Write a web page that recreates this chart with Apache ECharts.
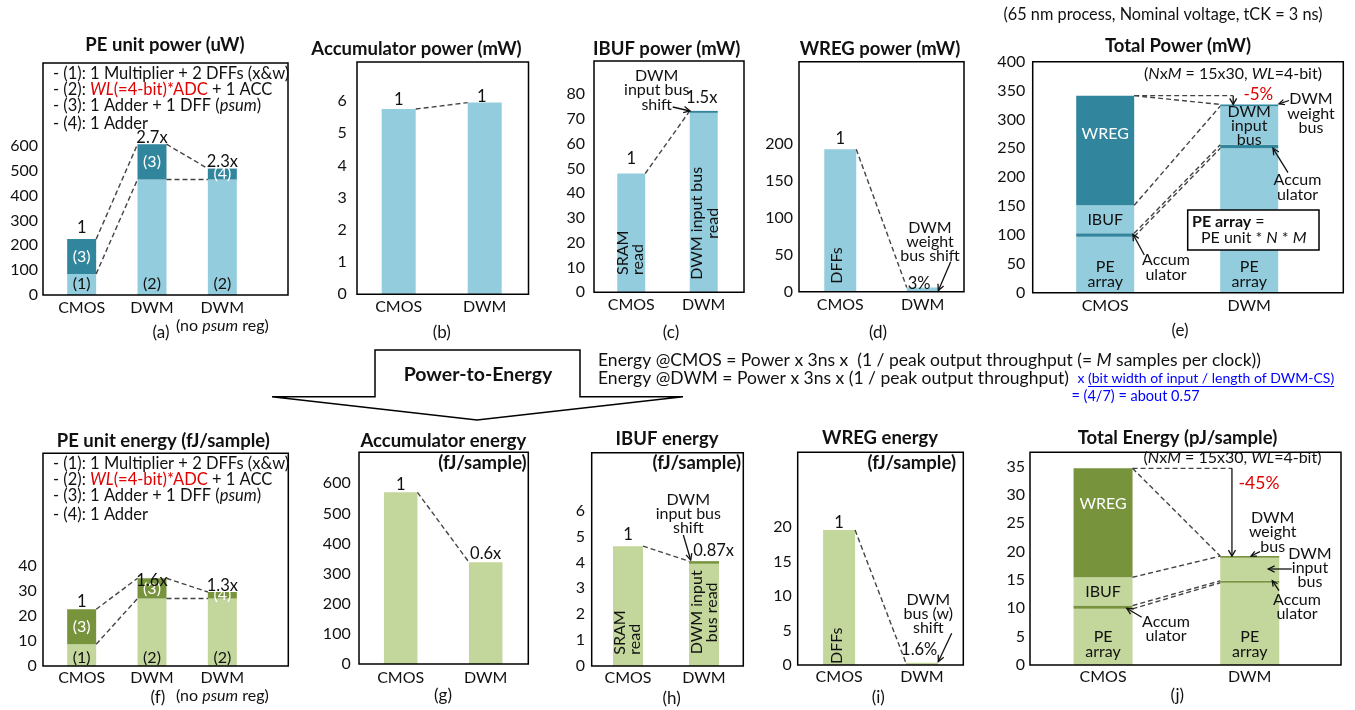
<!DOCTYPE html>
<html>
<head>
<meta charset="utf-8">
<script src="https://cdn.jsdelivr.net/npm/echarts@6/dist/echarts.min.js"></script>
<style>
  html, body { margin: 0; padding: 0; background: #fff; }
  #chart { width: 1355px; height: 710px; }
</style>
</head>
<body>
<div id="chart"></div>
<script>
// ---------------- data ----------------
const catsPE = ['CMOS', 'DWM', 'DWM (no psum reg)'];
const catsPair = ['CMOS', 'DWM'];

// (a) PE unit power (uW): base block (1)/(2) and top block (3)/(4)
const pePowerBase = [85, 465, 465];
const pePowerTop = [140, 142, 44];
const peBaseTags = ['(1)', '(2)', '(2)'];
const peTopTags = ['(3)', '(3)', '(4)'];
const pePowerRatio = ['1', '2.7x', '2.3x'];

// (b) Accumulator power (mW)
const accPower = [5.75, 5.95];
const accPowerRatio = ['1', '1'];

// (c) IBUF power (mW): read + bus shift
const ibufPowerRead = [48, 72.5];
const ibufPowerShift = [0, 0.8];
const ibufPowerRatio = ['1', '1.5x'];

// (d) WREG power (mW)
const wregPower = [193, 5.8];
const wregPowerRatio = ['1', '3%'];

// (e) Total power (mW)
const totPowerPE = [97, 250];
const totPowerAcc = [5.75, 6];
const totPowerIbuf = [48.5, 67];
const totPowerWreg = [190, 3];
const totPowerPETags = ['PE\narray', 'PE\narray'];
const totPowerIbufTags = ['IBUF', 'DWM\ninput\nbus'];
const totPowerWregTags = ['WREG', ''];

// (f) PE unit energy (fJ/sample)
const peEnergyBase = [8.7, 27.0, 27.0];
const peEnergyTop = [14.0, 8.1, 2.6];
const peEnergyRatio = ['1', '1.6x', '1.3x'];

// (g) Accumulator energy (fJ/sample)
const accEnergy = [570, 338];
const accEnergyRatio = ['1', '0.6x'];

// (h) IBUF energy (fJ/sample)
const ibufEnergyRead = [4.63, 3.95];
const ibufEnergyShift = [0, 0.1];
const ibufEnergyRatio = ['1', '0.87x'];

// (i) WREG energy (fJ/sample)
const wregEnergy = [19.6, 0.31];
const wregEnergyRatio = ['1', '1.6%'];

// (j) Total energy (pJ/sample)
const totEnergyPE = [9.9, 14.5];
const totEnergyAcc = [0.57, 0.34];
const totEnergyIbuf = [5.0, 4.05];
const totEnergyWreg = [19.2, 0.31];
const totEnergyPETags = ['PE\narray', 'PE\narray'];
const totEnergyIbufTags = ['IBUF', ''];
const totEnergyWregTags = ['WREG', ''];

const legendLines = [
  '- (1): 1 Multiplier + 2 DFFs (x&w)',
  ['- (2): ', 'WL', '(=4-bit)*ADC', ' + 1 ACC'],
  ['- (3): 1 Adder + 1 DFF (', 'psum', ')'],
  '- (4): 1 Adder'
];

// ---------------- styling ----------------
const FF = 'Lato, "Open Sans", sans-serif';
const LB = '#93CDDD', DB = '#31859C', LG = '#C3D69B', DG = '#77933C';
const INK = '#111';
const RED = '#E00000';
const BLUE = '#0000FF';
const NOTE = 16;     // annotation text size
const TITLE = 18.5;  // panel title size

const measureCtx = document.createElement('canvas').getContext('2d');
function textW(str, size, extra) {
  measureCtx.font = (extra ? extra + ' ' : '') + size + 'px ' + FF;
  return measureCtx.measureText(str).width;
}

function rich(size) {
  const base = { fontSize: size, fontFamily: FF, fill: INK };
  return {
    n: base,
    b: Object.assign({}, base, { fontWeight: 'bold' }),
    i: Object.assign({}, base, { fontStyle: 'italic' }),
    r: Object.assign({}, base, { fill: RED }),
    ri: Object.assign({}, base, { fill: RED, fontStyle: 'italic' }),
    bl: Object.assign({}, base, { fill: BLUE })
  };
}

function T(x, y, text, o) {
  o = o || {};
  const size = o.size || NOTE;
  return {
    type: 'text', x: x, y: y, z: 100, silent: true, rotation: o.rot || 0,
    style: {
      text: text, fill: o.fill || INK, fontSize: size, fontFamily: FF,
      fontWeight: o.bold ? 'bold' : 'normal', fontStyle: o.italic ? 'italic' : 'normal',
      align: o.align || 'center', verticalAlign: o.va || 'middle',
      lineHeight: o.lh || size, rich: o.rich
    }
  };
}

function A(x1, y1, x2, y2, o) {
  o = o || {};
  const ang = Math.atan2(y2 - y1, x2 - x1), L = o.head || 7, w = 0.45;
  const h1 = [x2 - L * Math.cos(ang - w), y2 - L * Math.sin(ang - w)];
  const h2 = [x2 - L * Math.cos(ang + w), y2 - L * Math.sin(ang + w)];
  return [
    { type: 'line', z: 100, silent: true, shape: { x1: x1, y1: y1, x2: x2, y2: y2 }, style: { stroke: INK, lineWidth: 1.3 } },
    { type: 'polyline', z: 100, silent: true, shape: { points: [h1, [x2, y2], h2] }, style: { stroke: INK, lineWidth: 1.3, fill: null } }
  ];
}

// ---------------- panels ----------------
const panels = [
  { // (a)
    frame: [43, 63, 245, 232], grid: [46.5, 211], max: 934, interval: 100, labelMax: 600, yMargin: 8.5, xMargin: 4,
    cats: catsPE, barWidth: 29,
    layers: [
      { data: pePowerBase, color: LB, tags: peBaseTags, pos: 'insideBottom', dist: 3 },
      { data: pePowerTop, color: DB, tags: peTopTags, pos: 'inside', tagColor: '#fff' }
    ],
    ratio: pePowerRatio, ratioDist: [3, -1, -1],
    links: [[0, 1, 1, 1], [0, 0, 1, 0], [1, 1, 2, 1], [1, 0, 2, 0]]
  },
  { // (b)
    frame: [357, 62, 171.5, 232.3], grid: [355.7, 172], max: 7.21, interval: 1, labelMax: 6, yMargin: 9, xMargin: 4,
    cats: catsPair, barWidth: 34,
    layers: [{ data: accPower, color: LB }],
    ratio: accPowerRatio, ratioDist: [1, -2], ratioDx: [0, -3],
    links: [[0, 0, 1, 0]]
  },
  { // (c)
    frame: [594, 61, 150, 231.3], grid: [595, 145], max: 93.45, interval: 10, labelMax: 80, yMargin: 10, xMargin: 4,
    cats: catsPair, barWidth: 28,
    layers: [{ data: ibufPowerRead, color: LB }, { data: ibufPowerShift, color: DB }],
    ratio: ibufPowerRatio, ratioDist: [7, 5], ratioDx: [0, -2],
    links: [[0, 1, 1, 1]]
  },
  { // (d)
    frame: [799, 61.7, 165, 230], grid: [799, 165], max: 311.5, interval: 50, labelMax: 200, yMargin: 6, xMargin: 4,
    cats: catsPair, barWidth: 32,
    layers: [{ data: wregPower, color: LB }],
    ratio: wregPowerRatio, ratioDist: [3, -4.6], ratioDx: [0, -3.7],
    links: [[0, 0, 1, 0]]
  },
  { // (e)
    frame: [1032.7, 61.7, 310.6, 231], grid: [1033.2, 288], max: 400, interval: 50, labelMax: 400, yMargin: 8, xMargin: 4,
    cats: catsPair, barWidth: 58, elbowDx: 13,
    layers: [
      { data: totPowerPE, color: LB, tags: totPowerPETags, pos: 'insideBottom', dist: 3, lh: 15 },
      { data: totPowerAcc, color: DB },
      { data: totPowerIbuf, color: LB, tags: totPowerIbufTags, pos: 'inside', lh: 14 },
      { data: totPowerWreg, color: DB, tags: totPowerWregTags, pos: 'insideTop', dist: 30, tagColor: '#fff' }
    ],
    links: [[0, 3, 1, 3, 1], [0, 3, 1, 3], [0, 2, 1, 2], [0, 0, 1, 0], [0, 1, 1, 1]]
  },
  { // (f)
    frame: [43, 453.3, 245.3, 212.7], grid: [46.5, 211], max: 85.1, interval: 10, labelMax: 40, yMargin: 9.8, xMargin: 3,
    cats: catsPE, barWidth: 29,
    layers: [
      { data: peEnergyBase, color: LG, tags: peBaseTags, pos: 'insideBottom', dist: 0 },
      { data: peEnergyTop, color: DG, tags: peTopTags, pos: 'inside', tagColor: '#fff' }
    ],
    ratio: peEnergyRatio, ratioDist: [-0.4, -10, -2],
    links: [[0, 1, 1, 1], [0, 0, 1, 0], [1, 1, 2, 1], [1, 0, 2, 0]]
  },
  { // (g)
    frame: [359, 452.3, 169.3, 211.7], grid: [358.2, 170], max: 703, interval: 100, labelMax: 600, yMargin: 7.5, xMargin: 4.5,
    cats: catsPair, barWidth: 33.5,
    layers: [{ data: accEnergy, color: LG }],
    ratio: accEnergyRatio, ratioDist: [0, 1],
    links: [[0, 0, 1, 0]]
  },
  { // (h)
    frame: [591.7, 452.7, 151.6, 213.3], grid: [590, 152], max: 8.24, interval: 1, labelMax: 6, yMargin: 5, xMargin: 3,
    cats: catsPair, barWidth: 30,
    layers: [{ data: ibufEnergyRead, color: LG }, { data: ibufEnergyShift, color: DG }],
    ratio: ibufEnergyRatio, ratioDist: [3, 2.7], ratioDx: [0, 9.6],
    links: [[0, 1, 1, 1]]
  },
  { // (i)
    frame: [797.7, 452.3, 165.6, 212.7], grid: [797.7, 165.6], max: 30.9, interval: 5, labelMax: 20, yMargin: 6, xMargin: 3,
    cats: catsPair, barWidth: 32,
    layers: [{ data: wregEnergy, color: LG }],
    ratio: wregEnergyRatio, ratioDist: [-0.7, 5.6], ratioDx: [0, -2.7],
    links: [[0, 0, 1, 0]]
  },
  { // (j)
    frame: [1030, 452.3, 311, 212.7], grid: [1029.7, 293.4], max: 37.5, interval: 5, labelMax: 35, yMargin: 4.7, xMargin: 3,
    cats: catsPair, barWidth: 59, elbowDx: 11.7,
    layers: [
      { data: totEnergyPE, color: LG, tags: totEnergyPETags, pos: 'insideBottom', dist: 6, lh: 14.5 },
      { data: totEnergyAcc, color: DG },
      { data: totEnergyIbuf, color: LG, tags: totEnergyIbufTags, pos: 'inside' },
      { data: totEnergyWreg, color: DG, tags: totEnergyWregTags, pos: 'insideTop', dist: 27.8, tagColor: '#fff' }
    ],
    links: [[0, 3, 1, 3, 1], [0, 3, 1, 3], [0, 2, 1, 3], [0, 0, 1, 0], [0, 1, 1, 1]]
  }
];

// ---------------- option assembly ----------------
const grids = [], xAxes = [], yAxes = [], series = [], graphics = [];
const axisFont = { fontSize: 16, fontFamily: FF, color: INK };

function catFormatter(v) {
  if (v.indexOf('(no') >= 0) return '{n|DWM}\n{n|(no }{i|psum}{n| reg)}';
  return '{n|' + v + '}';
}

panels.forEach(function (p, gi) {
  const f = p.frame;
  grids.push({ left: p.grid[0], width: p.grid[1], top: f[1], height: f[3] });
  xAxes.push({
    gridIndex: gi, type: 'category', data: p.cats,
    axisLine: { show: false }, axisTick: { show: false }, splitLine: { show: false },
    axisLabel: {
      interval: 0, margin: p.xMargin, formatter: catFormatter,
      rich: {
        n: Object.assign({}, axisFont, { lineHeight: 18 }),
        i: Object.assign({}, axisFont, { lineHeight: 18, fontStyle: 'italic' })
      }
    }
  });
  yAxes.push({
    gridIndex: gi, type: 'value', min: 0, max: p.max, interval: p.interval,
    axisLine: { show: false }, axisTick: { show: false }, splitLine: { show: false },
    axisLabel: Object.assign({}, axisFont, {
      margin: p.yMargin, showMaxLabel: true,
      formatter: function (v) { return v <= p.labelMax + 1e-9 ? String(v) : ''; }
    })
  });

  // stacked blocks
  p.layers.forEach(function (L) {
    series.push({
      type: 'bar', xAxisIndex: gi, yAxisIndex: gi, stack: 'stack' + gi, barWidth: p.barWidth,
      data: L.data, itemStyle: { color: L.color }, silent: true,
      label: L.tags ? {
        show: true, position: L.pos, distance: L.dist === undefined ? 5 : L.dist,
        formatter: function (q) { return L.tags[q.dataIndex] || ''; },
        color: L.tagColor || INK, fontSize: 16, fontFamily: FF, lineHeight: L.lh || 16
      } : { show: false }
    });
  });

  // cumulative level of a stack at category i after layer k
  function level(i, k) {
    let s = 0;
    for (let m = 0; m <= k; m++) s += p.layers[m].data[i];
    return s;
  }

  // dashed connectors between bar levels
  const bw = p.barWidth, elbowDx = p.elbowDx || 0;
  series.push({
    type: 'custom', xAxisIndex: gi, yAxisIndex: gi, z: 6, silent: true, clip: false,
    data: p.links.map(function (l) { return [l[0], level(l[0], l[1]), l[2], level(l[2], l[3]), l[4] || 0]; }),
    renderItem: function (params, api) {
      const a = api.coord([api.value(0), api.value(1)]);
      const b = api.coord([api.value(2), api.value(3)]);
      const x1 = a[0] + bw / 2;
      const dash = { stroke: '#444', lineWidth: 1.4, lineDash: [5, 3], fill: null };
      if (api.value(4) === 1) {
        const xd = b[0] - bw / 2 + elbowDx;
        return {
          type: 'group', children: [
            { type: 'line', shape: { x1: x1, y1: a[1], x2: xd, y2: a[1] }, style: dash },
            { type: 'line', shape: { x1: xd, y1: a[1], x2: xd, y2: b[1] }, style: { stroke: INK, lineWidth: 1.3 } },
            { type: 'polyline', shape: { points: [[xd - 3.5, b[1] - 6], [xd, b[1]], [xd + 3.5, b[1] - 6]] }, style: { stroke: INK, lineWidth: 1.3, fill: null } }
          ]
        };
      }
      return { type: 'line', shape: { x1: x1, y1: a[1], x2: b[0] - bw / 2, y2: b[1] }, style: dash };
    }
  });

  // ratio labels above each stack
  if (p.ratio) {
    series.push({
      type: 'custom', xAxisIndex: gi, yAxisIndex: gi, z: 7, silent: true, clip: false,
      data: p.cats.map(function (c, i) { return [i, level(i, p.layers.length - 1)]; }),
      renderItem: function (params, api) {
        const i = params.dataIndex;
        const pt = api.coord([api.value(0), api.value(1)]);
        const dx = (p.ratioDx || [])[i] || 0;
        return {
          type: 'text', x: pt[0] + dx, y: pt[1] - p.ratioDist[i] - 8,
          style: { text: p.ratio[i], fill: INK, fontSize: 16.5, fontFamily: FF, align: 'center', verticalAlign: 'middle' }
        };
      }
    });
  }

  // panel frame
  graphics.push({
    type: 'rect', z: 90, silent: true,
    shape: { x: f[0], y: f[1], width: f[2], height: f[3] },
    style: { fill: null, stroke: '#000', lineWidth: 1.5 }
  });
});

// ---------------- titles and notes ----------------
[
  ['PE unit power (uW)', 165, 45], ['Accumulator power (mW)', 416.5, 49.5], ['IBUF power (mW)', 666.7, 49.5],
  ['WREG power (mW)', 880, 49.5], ['Total Power (mW)', 1178, 45.7],
  ['PE unit energy (fJ/sample)', 163.3, 440.7], ['Accumulator energy', 443.3, 440.7], ['IBUF energy', 667, 439.3],
  ['WREG energy', 880, 438.3], ['Total Energy (pJ/sample)', 1177.5, 438.3]
].forEach(function (t) { graphics.push(T(t[1], t[2], t[0], { bold: true, size: TITLE })); });

[
  ['(a)', 161, 333], ['(b)', 441.7, 333], ['(c)', 671, 333], ['(d)', 878, 333], ['(e)', 1180, 331],
  ['(f)', 158, 698], ['(g)', 443, 696], ['(h)', 671.7, 699], ['(i)', 878.3, 697.7], ['(j)', 1177.3, 696]
].forEach(function (t) { graphics.push(T(t[1], t[2], t[0], { size: 17 })); });

[['(fJ/sample)', 526.7], ['(fJ/sample)', 741], ['(fJ/sample)', 956]].forEach(function (t) {
  graphics.push(T(t[1], 463.3, t[0], { bold: true, size: TITLE, align: 'right' }));
});

graphics.push(T(1163, 15, '(65 nm process, Nominal voltage, tCK = 3 ns)', { size: 16.3 }));

// component legend in (a) and (f)
function legendText(line) {
  if (typeof line === 'string') return '{n|' + line + '}';
  if (line.length === 4) return '{n|' + line[0] + '}{ri|' + line[1] + '}{r|' + line[2] + '}{n|' + line[3] + '}';
  return '{n|' + line[0] + '}{i|' + line[1] + '}{n|' + line[2] + '}';
}
[[73.3, 89.3, 106, 124], [463.3, 479.3, 496, 515]].forEach(function (ys) {
  legendLines.forEach(function (line, k) {
    graphics.push(T(53, ys[k], legendText(line), { align: 'left', rich: rich(16.5) }));
  });
});

// (c) IBUF power notes
graphics.push(T(656.7, 90, 'DWM\ninput bus\nshift', { lh: 14.5 }));
graphics.push.apply(graphics, A(672.7, 107, 690, 111));
graphics.push(T(630.5, 275, 'SRAM\nread', { align: 'left', rot: Math.PI / 2, lh: 15, size: 16 }));
graphics.push(T(705, 223.3, 'DWM input bus\nread', { rot: Math.PI / 2, lh: 16, size: 16 }));

// (d) WREG power notes
graphics.push(T(930, 241.5, 'DWM\nweight\nbus shift', { lh: 14 }));
graphics.push.apply(graphics, A(950.7, 261.7, 938.3, 290.7));
graphics.push(T(837.3, 265.5, 'DFFs', { rot: Math.PI / 2, size: 16 }));

// (e) total power notes
graphics.push(T(1233, 74, '{n|(}{i|N}{n|x}{i|M}{n| = 15x30, }{i|WL}{n|=4-bit)}', { rich: rich(16) }));
graphics.push(T(1258.3, 94.3, '-5%', { size: 17, fill: RED }));
graphics.push(T(1311, 113.5, 'DWM\nweight\nbus', { lh: 14.5 }));
graphics.push.apply(graphics, A(1289, 100.5, 1279, 103.8, { head: 6 }));
graphics.push(T(1297.5, 187.5, 'Accum\nulator', { lh: 15 }));
graphics.push.apply(graphics, A(1288, 172.7, 1273, 148.3));
graphics.push(T(1166, 267, 'Accum\nulator', { lh: 15 }));
graphics.push.apply(graphics, A(1144.3, 255, 1133, 234.3));
graphics.push({
  type: 'rect', z: 95, silent: true, shape: { x: 1187.7, y: 210, width: 131.3, height: 40 },
  style: { fill: '#fff', stroke: '#000', lineWidth: 1.5 }
});
graphics.push(T(1192, 221.7, '{b|PE array} {n|=}', { align: 'left', rich: rich(16) }));
graphics.push(T(1201, 238.3, '{n|PE unit * }{i|N}{n| * }{i|M}', { align: 'left', rich: rich(16) }));

// (h) IBUF energy notes
graphics.push(T(688.3, 514.3, 'DWM\ninput bus\nshift', { lh: 14 }));
graphics.push.apply(graphics, A(683.3, 535, 690.7, 560));
graphics.push(T(627.2, 654.7, 'SRAM\nread', { align: 'left', rot: Math.PI / 2, lh: 14.5, size: 16 }));
graphics.push(T(704.5, 612.3, 'DWM input\nbus read', { rot: Math.PI / 2, lh: 15.6, size: 16 }));

// (i) WREG energy notes
graphics.push(T(928.3, 613.7, 'DWM\nbus (w)\nshift', { lh: 13.7 }));
graphics.push.apply(graphics, A(951.7, 633.3, 938.3, 661.7));
graphics.push(T(837.3, 645.8, 'DFFs', { rot: Math.PI / 2, size: 16 }));

// (j) total energy notes
graphics.push(T(1232.5, 457.7, '{n|(}{i|N}{n|x}{i|M}{n| = 15x30, }{i|WL}{n|=4-bit)}', { rich: rich(16) }));
graphics.push(T(1259, 483.3, '-45%', { size: 17.5, fill: RED }));
graphics.push(T(1272.7, 532.3, 'DWM\nweight\nbus', { lh: 14.5 }));
graphics.push.apply(graphics, A(1260, 551.7, 1251, 556, { head: 6 }));
graphics.push(T(1310, 568.3, 'DWM\ninput\nbus', { lh: 14 }));
graphics.push.apply(graphics, A(1291.7, 569, 1268.3, 569));
graphics.push(T(1297, 607, 'Accum\nulator', { lh: 14 }));
graphics.push.apply(graphics, A(1279, 590.7, 1272.3, 580.7, { head: 6 }));
graphics.push(T(1166, 628.8, 'Accum\nulator', { lh: 14.3 }));
graphics.push.apply(graphics, A(1141.7, 617.3, 1126.7, 608.3));

// Power-to-Energy arrow block
graphics.push({
  type: 'polygon', z: 80, silent: true,
  shape: { points: [[375, 350], [580, 350], [580, 396.7], [683, 396.7], [477, 420], [272, 396.7], [375, 396.7]] },
  style: { fill: '#fff', stroke: '#000', lineWidth: 1.5 }
});
graphics.push(T(478, 375, 'Power-to-Energy', { bold: true, size: 19.5 }));

// conversion formulas
const FS = 17.5;   // black formula text
const FSB = 14;    // blue factor text
const fx = 598;
const line2Black = 'Energy @DWM = Power x 3ns x (1 / peak output throughput) ';
const line2Mul = 'x ';
const line2Link = '(bit width of input / length of DWM-CS)';
graphics.push(T(fx, 360.7, '{n|Energy @CMOS = Power x 3ns x  (1 / peak output throughput (= }{i|M}{n| samples per clock))}',
  { align: 'left', rich: rich(FS) }));
graphics.push(T(fx, 378.3, line2Black, { align: 'left', size: FS }));
const bx = fx + textW(line2Black, FS) + 4;
graphics.push(T(bx, 378.8, line2Mul + line2Link, { align: 'left', size: FSB, fill: BLUE }));
const ux = bx + textW(line2Mul, FSB);
graphics.push({
  type: 'line', z: 100, silent: true,
  shape: { x1: ux, y1: 386.5, x2: ux + textW(line2Link, FSB), y2: 386.5 },
  style: { stroke: BLUE, lineWidth: 1 }
});
graphics.push(T(bx - 6, 396.5, '= (4/7) = about 0.57', { align: 'left', size: FSB + 0.5, fill: BLUE }));

const chart = echarts.init(document.getElementById('chart'), null, { renderer: 'canvas' });
chart.setOption({
  animation: false,
  backgroundColor: '#fff',
  grid: grids,
  xAxis: xAxes,
  yAxis: yAxes,
  series: series,
  graphic: { elements: graphics }
});
</script>
</body>
</html>
